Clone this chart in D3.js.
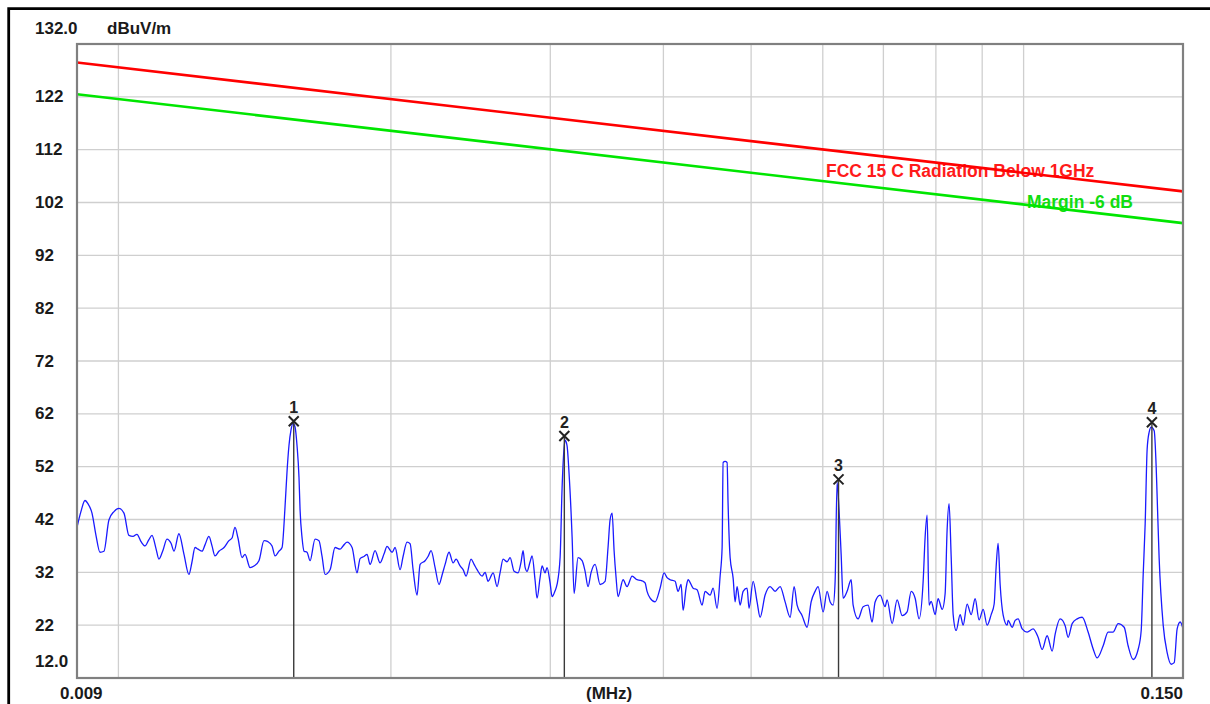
<!DOCTYPE html>
<html>
<head>
<meta charset="utf-8">
<script src="https://cdn.jsdelivr.net/npm/d3@7"></script>
<style>
body { margin: 0; background: #ffffff; }
svg text { font-family: "Liberation Sans", Arial, sans-serif; font-weight: bold; }
</style>
</head>
<body>
<svg id="chart" width="1210" height="704"></svg>
<script>

// frequencies in kHz, levels in dBuV/m
var traceFreq = [
    9.00, 9.09, 9.185, 9.254, 9.350, 9.445, 9.542, 9.639, 9.761, 9.888,
    10.012, 10.142, 10.270, 10.378, 10.483, 10.592, 10.700, 10.807, 10.892, 11.003,
    11.085, 11.201, 11.314, 11.432, 11.519, 11.664, 11.815, 11.964, 12.059, 12.151,
    12.243, 12.370, 12.464, 12.589, 12.688, 12.785, 12.913, 13.082, 13.247, 13.351,
    13.452, 13.554, 13.695, 13.800, 13.977, 14.119, 14.297, 14.483, 14.629, 14.782,
    14.894, 15.044, 15.163, 15.278, 15.355, 15.432, 15.514, 15.593, 15.672, 15.751,
    15.830, 15.874, 15.955, 16.036, 16.157, 16.283, 16.490, 16.656, 16.787, 16.915,
    17.133, 17.351, 17.574, 17.708, 17.887, 18.119, 18.348, 18.492,
    18.680, 18.822, 18.968, 19.210, 19.457, 19.655, 19.804, 20.061, 20.213, 20.473,
    20.629, 20.838, 21.001, 21.161, 21.375, 21.542, 21.816, 21.981, 22.153, 22.379,
    22.603, 22.782, 22.956, 23.187, 23.429, 23.606, 23.850, 24.032, 24.214, 24.527,
    24.714, 24.901, 25.224, 25.416, 25.607, 25.940, 26.202, 26.406, 26.608, 26.877,
    27.083, 27.359, 27.635, 27.852, 27.993, 28.135, 28.276, 28.497, 28.642, 28.860,
    29.005, 29.231, 29.380, 29.603, 29.752, 29.984, 30.137, 30.366, 30.519, 30.757,
    30.914, 31.070, 31.149, 31.305, 31.462, 31.711, 31.872, 32.193, 32.528, 32.775,
    33.023, 33.282, 33.620, 34.052, 34.486, 34.746, 34.930, 35.108, 35.286, 35.464,
    35.642, 36.104, 36.469, 36.940, 37.408, 37.700, 37.988,
    38.180, 38.372, 38.672, 39.165, 39.668, 40.072, 40.375, 40.690, 41.208, 41.519,
    41.844, 42.057, 42.376, 42.589, 43.141, 43.577, 44.141, 44.477, 45.049, 45.393,
    45.852, 46.210, 46.445, 46.563, 46.799, 47.034, 47.152, 47.401, 47.763, 48.005,
    48.246, 48.622, 48.993, 49.489, 49.736, 50.256, 50.764, 51.160, 51.812, 52.478,
    53.147, 53.831, 54.517, 55.218, 55.781, 56.203, 56.929, 57.651, 58.248, 58.840,
    59.284, 60.052, 60.660, 61.133, 61.600, 61.912, 62.223, 62.534, 62.868, 63.187,
    63.826, 64.488, 64.815, 65.635, 66.486, 67.327, 68.027, 68.544, 69.426, 70.311,
    70.664, 71.577, 72.485, 73.422, 74.352, 75.124, 75.888, 76.650, 77.451, 77.843,
    78.234, 78.626, 79.046, 79.850, 80.452, 81.288, 81.906, 82.318, 82.730, 83.172,
    83.594, 84.228, 85.098, 85.748, 86.615, 87.514, 88.403, 89.292, 90.224, 91.137,
    92.081, 92.783, 93.250, 93.719, 94.214,
    94.934, 95.894, 96.134, 97.134, 97.873, 98.612, 99.637, 100.900, 102.464, 103.759,
    104.838, 106.167, 107.540, 108.358, 109.752, 111.150, 111.989, 113.153, 114.587, 116.069,
    117.834, 119.362, 120.569, 122.437, 123.985, 125.592, 127.180, 129.155, 130.458, 132.149,
    133.820, 134.869, 135.554, 136.240, 136.925, 137.609, 138.345, 139.399, 140.102, 140.454,
    141.156, 142.630, 144.073, 145.566, 146.676, 147.785, 148.937, 150.000
];

var traceLevel = [
    40.5, 43.5, 45.6, 45.0, 43.2, 39.0, 35.8, 36.0, 41.9, 43.5,
    44.1, 43.2, 39.0, 38.8, 39.2, 37.8, 37.0, 38.2, 39.0, 36.5,
    34.5, 36.2, 38.3, 37.5, 36.0, 39.3, 35.4, 31.6, 34.0, 36.7,
    36.4, 36.0, 37.2, 38.8, 37.0, 35.1, 36.0, 36.7, 38.0, 38.5,
    40.5, 38.5, 34.8, 35.4, 32.9, 33.2, 34.2, 38.0, 37.8, 37.0,
    35.1, 36.0, 36.7, 44.4, 51.0, 56.0, 59.0, 60.2, 59.5, 56.0,
    50.0, 43.8, 38.5, 36.0, 35.8, 34.2, 38.3, 38.0, 35.0, 31.6,
    32.5, 36.7, 36.4, 37.0, 37.7, 36.7, 31.9, 34.6,
    35.0, 35.4, 33.5, 36.1, 33.8, 35.5, 36.9, 35.8, 36.7, 32.5,
    35.0, 37.7, 37.4, 32.5, 27.7, 33.5, 34.2, 35.0, 36.1, 32.9,
    29.7, 31.5, 33.5, 35.8, 33.8, 34.5, 33.2, 32.5, 31.3, 34.5,
    33.5, 32.5, 31.3, 32.0, 30.3, 31.9, 29.3, 32.0, 34.5, 34.0,
    34.8, 32.2, 31.9, 34.0, 36.1, 33.0, 32.2, 34.0, 35.1, 30.5,
    27.1, 31.0, 33.2, 31.9, 32.9, 30.0, 27.4, 28.5, 29.7, 34.8,
    48.0, 55.5, 57.0, 56.0, 50.9, 38.7, 28.0, 34.8, 34.2, 32.2,
    29.3, 32.0, 33.5, 29.7, 30.3, 36.7, 42.0, 43.2, 36.1, 31.0,
    27.4, 30.6, 29.3, 31.3, 30.6, 30.5, 30.3,
    30.0, 28.4, 27.1, 26.4, 29.0, 31.9, 31.0, 30.6, 30.3, 28.4,
    29.7, 24.8, 29.0, 30.6, 29.0, 28.7, 25.8, 28.4, 27.7, 29.0,
    25.2, 31.3, 36.7, 52.8, 53.0, 52.8, 45.1, 34.8, 30.9, 26.4,
    29.3, 25.8, 28.4, 29.0, 25.2, 30.3, 26.4, 23.5, 27.7, 29.3,
    28.4, 29.3, 26.4, 23.5, 29.3, 25.8, 23.8, 21.6, 26.4, 28.4,
    29.3, 24.5, 28.4, 26.4, 25.8, 30.3, 49.0, 43.8, 35.4, 27.1,
    28.4, 30.6, 25.8, 23.2, 25.5, 25.8, 22.6, 26.4, 27.7, 25.5,
    26.8, 22.3, 26.8, 23.8, 24.5, 28.4, 27.1, 23.2, 30.3, 38.7,
    42.8, 25.8, 26.5, 24.0, 27.0, 25.0, 28.0, 40.0, 45.0, 35.0,
    24.0, 21.0, 24.0, 22.0, 26.0, 24.0, 27.0, 23.0, 25.0, 22.0,
    24.0, 26.0, 33.0, 37.5, 29.6,
    23.9, 22.0, 22.9, 21.6, 22.9, 23.2, 21.3, 20.7, 21.3, 19.7,
    17.4, 20.0, 17.1, 20.3, 23.2, 21.9, 19.7, 22.3, 23.2, 23.5,
    20.7, 17.5, 15.8, 18.1, 20.7, 20.7, 22.3, 21.6, 18.1, 15.5,
    17.4, 21.0, 31.6, 41.2, 55.3, 58.5, 59.5, 58.8, 52.0, 46.3,
    34.8, 22.0, 16.8, 14.6, 14.9, 21.3, 22.6, 21.3
];

var limitFreq = [9, 150];
var limitLevel = [128.5, 104.1];
var marginLevel = [122.5, 98.1];

var markerNames = ["1", "2", "3", "4"];
var markerFreq = [15.62, 31.09, 62.45, 138.59];
var markerLevel = [60.6, 57.8, 49.6, 60.4];

var yTickValues = [12, 22, 32, 42, 52, 62, 72, 82, 92, 102, 112, 122];
var yTickLabels = ["12.0", "22", "32", "42", "52", "62", "72", "82", "92", "102", "112", "122"];
var xGridValues = [10, 20, 30, 40, 50, 60, 70, 80, 90, 100];
var xTickLabels = ["0.009", "0.150"];

var plotLeft = 77, plotRight = 1183, plotTop = 44, plotBottom = 678;

var svg = d3.select("#chart");

var x = d3.scaleLog().domain([9, 150]).range([plotLeft, plotRight]);
var y = d3.scaleLinear().domain([12, 132]).range([plotBottom, plotTop]);

// Grid
svg.selectAll(".hgrid")
    .data(yTickValues.slice(1))
    .enter()
    .append("line")
    .attr("x1", plotLeft)
    .attr("x2", plotRight)
    .attr("y1", function(d) { return y(d); })
    .attr("y2", function(d) { return y(d); })
    .style("stroke", "#cfcfcf")
    .style("stroke-width", 1.3);

svg.selectAll(".vgrid")
    .data(xGridValues)
    .enter()
    .append("line")
    .attr("x1", function(d) { return x(d); })
    .attr("x2", function(d) { return x(d); })
    .attr("y1", plotTop)
    .attr("y2", plotBottom)
    .style("stroke", "#cfcfcf")
    .style("stroke-width", 1.3);

// Limit labels (lines are drawn over them)
svg.append("text")
    .attr("x", 826)
    .attr("y", 177)
    .style("font-size", "17.5px")
    .style("fill", "#ff1a1a")
    .text("FCC 15 C Radiation Below 1GHz");

svg.append("text")
    .attr("x", 1027)
    .attr("y", 208)
    .style("font-size", "17.5px")
    .style("fill", "#11dd11")
    .text("Margin -6 dB");

var line = d3.line()
    .x(function(d) { return x(d[0]); })
    .y(function(d) { return y(d[1]); });

svg.append("path")
    .attr("d", line(d3.zip(limitFreq, limitLevel)))
    .attr("fill", "none")
    .attr("stroke", "#ff0000")
    .attr("stroke-width", 2.6);

svg.append("path")
    .attr("d", line(d3.zip(limitFreq, marginLevel)))
    .attr("fill", "none")
    .attr("stroke", "#00e600")
    .attr("stroke-width", 2.6);

// Measured trace
var traceLine = d3.line()
    .curve(d3.curveMonotoneX)
    .x(function(d) { return x(d[0]); })
    .y(function(d) { return y(d[1]); });

svg.append("path")
    .attr("d", traceLine(d3.zip(traceFreq, traceLevel)))
    .attr("fill", "none")
    .attr("stroke", "#1a1aff")
    .attr("stroke-width", 1.3)
    .attr("stroke-linejoin", "round");

// Markers
for (var i = 0; i < markerNames.length; i++)
{
    var mx = x(markerFreq[i]);
    var my = y(markerLevel[i]);

    svg.append("line")
        .attr("x1", mx)
        .attr("x2", mx)
        .attr("y1", my)
        .attr("y2", plotBottom)
        .style("stroke", "#3a3a3a")
        .style("stroke-width", 1.4);

    svg.append("path")
        .attr("d", "M" + (mx - 5) + "," + (my - 5) + "L" + (mx + 5) + "," + (my + 5) +
                   "M" + (mx + 5) + "," + (my - 5) + "L" + (mx - 5) + "," + (my + 5))
        .attr("stroke", "#222")
        .attr("stroke-width", 2);

    svg.append("text")
        .attr("x", mx)
        .attr("y", my - 8)
        .attr("text-anchor", "middle")
        .style("font-size", "16px")
        .style("fill", "#222")
        .text(markerNames[i]);
}

// Plot frame
svg.append("rect")
    .attr("x", plotLeft)
    .attr("y", plotTop)
    .attr("width", plotRight - plotLeft)
    .attr("height", plotBottom - plotTop)
    .attr("fill", "none")
    .attr("stroke", "#808080")
    .attr("stroke-width", 2.2);

// Outer border
svg.append("path")
    .attr("d", "M8.7,704V8.7H1210")
    .attr("fill", "none")
    .attr("stroke", "#000")
    .attr("stroke-width", 2.8);

// Axis texts
svg.selectAll(".ylabel")
    .data(yTickValues)
    .enter()
    .append("text")
    .attr("x", 35)
    .attr("y", function(d) { return d == 12 ? y(d) - 11 : y(d) + 5.5; })
    .style("font-size", "17px")
    .style("fill", "#1a1a1a")
    .text(function(d, i) { return yTickLabels[i]; });

svg.append("text")
    .attr("x", 35)
    .attr("y", plotTop - 10)
    .style("font-size", "17px")
    .style("fill", "#1a1a1a")
    .text("132.0");

svg.append("text")
    .attr("x", 107)
    .attr("y", plotTop - 10)
    .style("font-size", "17px")
    .style("fill", "#1a1a1a")
    .text("dBuV/m");

svg.append("text")
    .attr("x", 60)
    .attr("y", 699)
    .style("font-size", "17px")
    .style("fill", "#1a1a1a")
    .text(xTickLabels[0]);

svg.append("text")
    .attr("x", plotRight)
    .attr("y", 699)
    .attr("text-anchor", "end")
    .style("font-size", "17px")
    .style("fill", "#1a1a1a")
    .text(xTickLabels[1]);

svg.append("text")
    .attr("x", 586)
    .attr("y", 699)
    .style("font-size", "17px")
    .style("fill", "#1a1a1a")
    .text("(MHz)");

</script>
</body>
</html>
